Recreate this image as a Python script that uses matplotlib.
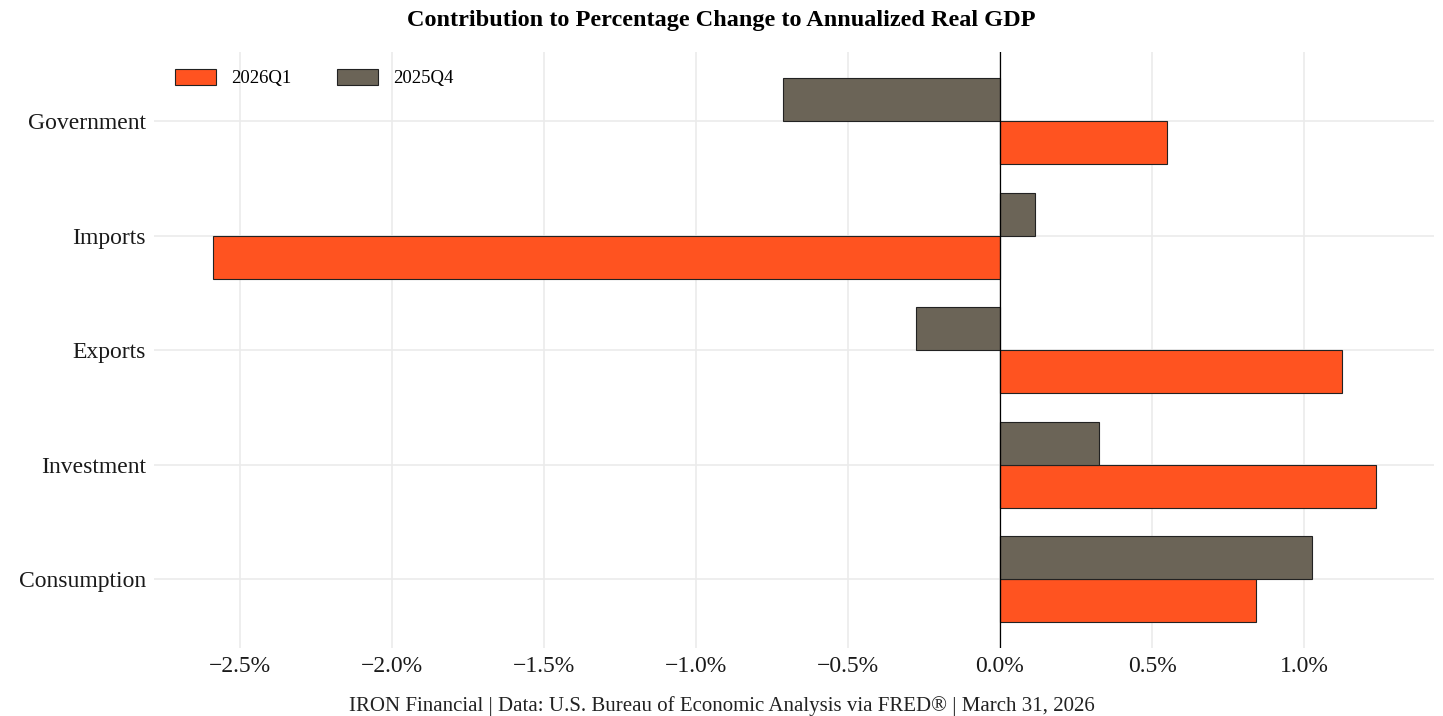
import matplotlib
matplotlib.use("Agg")
import matplotlib.pyplot as plt
import numpy as np
from matplotlib.ticker import FuncFormatter

plt.rcParams['font.family'] = ['Liberation Serif', 'DejaVu Serif']

categories = ["Consumption", "Investment", "Exports", "Imports", "Government"]
q2026q1 = [0.842, 1.237, 1.125, -2.589, 0.549]
q2025q4 = [1.026, 0.326, -0.276, 0.115, -0.714]

c_new = "#FF5320"
c_old = "#6B6457"

fig = plt.figure(figsize=(14.43, 7.16), dpi=100)
ax = fig.add_axes([0.107, 0.095, 0.887, 0.832])

y = np.arange(1, len(categories) + 1)
h = 0.375
ax.barh(y - h / 2, q2026q1, height=h, color=c_new, edgecolor="#222222", linewidth=0.8, label="2026Q1", zorder=3)
ax.barh(y + h / 2, q2025q4, height=h, color=c_old, edgecolor="#222222", linewidth=0.8, label="2025Q4", zorder=3)

ax.axvline(0, color="black", linewidth=0.9, zorder=4)

lo = min(min(q2026q1), min(q2025q4))
hi = max(max(q2026q1), max(q2025q4))
pad = (hi - lo) * 0.05
ax.set_xlim(lo - pad, hi + pad)
ax.set_ylim(0.4, len(categories) + 0.6)

ax.set_yticks(y)
ax.set_yticklabels(categories)
ax.set_xticks(np.arange(-2.5, 1.01, 0.5))
ax.xaxis.set_major_formatter(FuncFormatter(lambda v, p: ("\u2212" if v < -1e-9 else "") + "%.1f%%" % abs(v)))

ax.grid(True, color="#EBEBEB", linewidth=1.2, zorder=0)
ax.set_axisbelow(True)
for s in ax.spines.values():
    s.set_visible(False)
ax.tick_params(axis="both", length=0, labelsize=17, colors="#1a1a1a")
ax.tick_params(axis="y", pad=6)
ax.tick_params(axis="x", pad=6)

ax.legend(loc="upper left", ncol=2, frameon=False, fontsize=13.5, handlelength=2.2, handleheight=0.9,
          columnspacing=2.4, bbox_to_anchor=(0.003, 1.0))

fig.text(0.5, 0.972, "Contribution to Percentage Change to Annualized Real GDP", ha="center", va="center",
         fontsize=17.5, fontweight="bold")
fig.text(0.5, 0.014, "IRON Financial | Data: U.S. Bureau of Economic Analysis via FRED\u00ae | March 31, 2026",
         ha="center", va="center", fontsize=15, color="#222222")

fig.savefig("out.png", dpi=100)
